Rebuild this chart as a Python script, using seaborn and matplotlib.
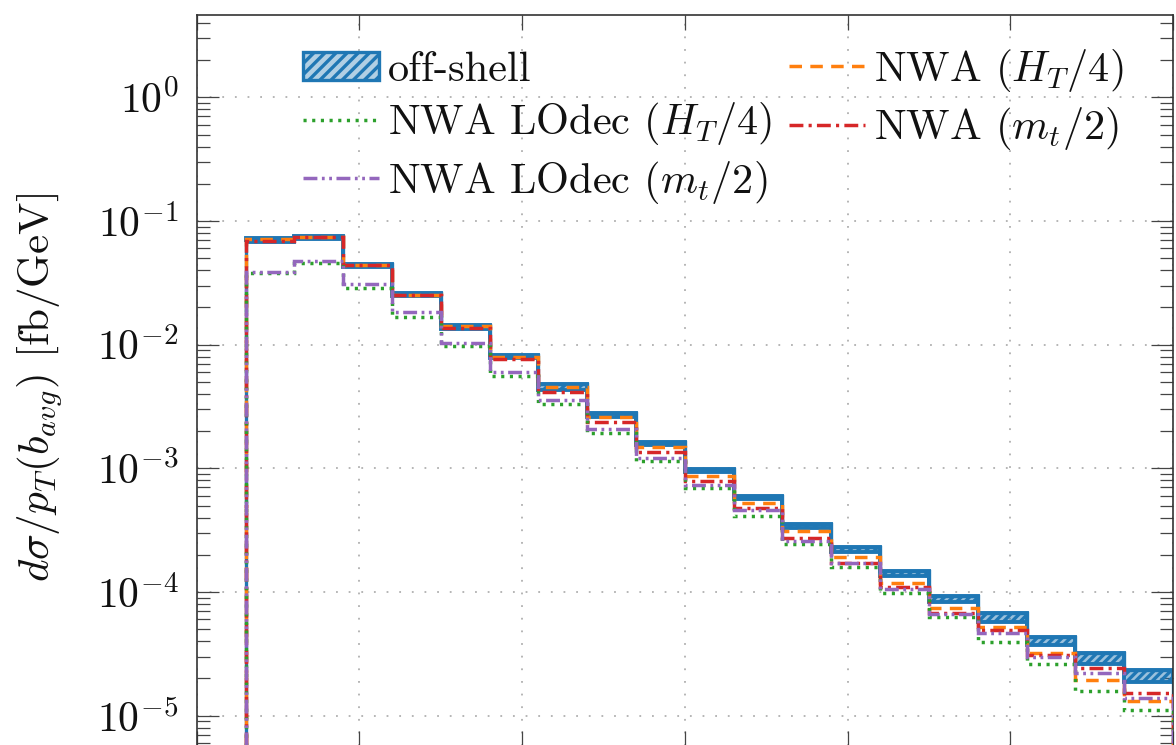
import numpy as np
import matplotlib
matplotlib.use("Agg")
import matplotlib.pyplot as plt
from matplotlib.patches import Patch
from matplotlib.lines import Line2D
from matplotlib.ticker import FixedLocator, LogLocator, FuncFormatter, NullFormatter
import seaborn as sns

# ---------------- data ----------------
bin_edges = [30, 60, 90, 120, 150, 180, 210, 240, 270, 300, 330,
             360, 390, 420, 450, 480, 510, 540, 570, 600]

offshell_upper = [0.0728, 0.0763, 0.0453, 0.0264, 0.01447, 0.00828, 0.00481,
                  0.00280, 0.00163, 0.000992, 0.000597, 0.000355, 0.000233,
                  0.000149, 9.20e-5, 6.77e-5, 4.29e-5, 3.21e-5, 2.32e-5]
offshell_lower = [0.0670, 0.0715, 0.0428, 0.0247, 0.01351, 0.00773, 0.00430,
                  0.00260, 0.00153, 0.000926, 0.000560, 0.000329, 0.000211,
                  0.000135, 8.30e-5, 5.72e-5, 3.73e-5, 2.64e-5, 1.87e-5]
nwa_ht4 = [0.0709, 0.0749, 0.0441, 0.0254, 0.01415, 0.00799, 0.00452, 0.00259,
           0.00150, 0.000872, 0.000522, 0.000311, 0.000193, 0.000119, 7.47e-5,
           5.21e-5, 3.19e-5, 1.94e-5, 1.31e-5]
nwa_mt2 = [0.0693, 0.0742, 0.0437, 0.0252, 0.01371, 0.00761, 0.00414, 0.00238,
           0.00136, 0.000794, 0.000475, 0.000272, 0.000173, 0.000109, 6.73e-5,
           4.93e-5, 3.11e-5, 2.42e-5, 1.53e-5]
lodec_ht4 = [0.0380, 0.0460, 0.0286, 0.01664, 0.00976, 0.00558, 0.00331,
             0.00192, 0.00115, 0.000690, 0.000414, 0.000244, 0.000160,
             9.76e-5, 6.25e-5, 3.97e-5, 2.60e-5, 1.59e-5, 1.11e-5]
lodec_mt2 = [0.0389, 0.0472, 0.0309, 0.01837, 0.01037, 0.00604, 0.00357,
             0.00207, 0.00122, 0.000729, 0.000460, 0.000260, 0.000171,
             0.000105, 6.60e-5, 4.69e-5, 3.00e-5, 2.20e-5, 1.40e-5]

series_labels = ["off-shell", r"NWA LOdec $(H_T/4)$", r"NWA LOdec $(m_t/2)$",
                 r"NWA $(H_T/4)$", r"NWA $(m_t/2)$"]
x_ticks = [0, 100, 200, 300, 400, 500, 600]
y_label = r"$d\sigma/p_T(b_{avg})$ [fb/GeV]"

# ---------------- style ----------------
sns.set_theme(style="ticks")
pal = sns.color_palette("tab10")
blue, orange, green, red, purple = pal[0], pal[1], pal[2], pal[3], pal[4]
plt.rcParams.update({
    "font.family": ["cmr10"],
    "mathtext.fontset": "cm",
    "axes.formatter.use_mathtext": True,
    "hatch.color": blue,
    "hatch.linewidth": 2.4,
    "axes.edgecolor": "#222222",
})

W, H = 1176, 745
fig = plt.figure(figsize=(W / 100, H / 100), dpi=100)
ax_left, ax_right, ax_top, ax_bot = 196.7, 1173.0, 15.0, 745.5
ax = fig.add_axes([ax_left / W, (H - ax_bot) / H,
                   (ax_right - ax_left) / W, (ax_bot - ax_top) / H])

ymin, ymax = 5.74e-6, 4.63
ax.set_yscale("log")
ax.set_xlim(0, 600)
ax.set_ylim(ymin, ymax)
base = ymin * 1e-3

lw = 2.5
dash_orange = (0, (3.6, 2.4))
dash_red = (0, (4.0, 1.5, 0.9, 1.5))
dash_green = (0, (0.9, 1.6))
dash_purple = (0, (4.0, 1.3, 0.8, 1.3, 0.8, 1.3))

# off-shell band
ax.stairs(offshell_upper, bin_edges, baseline=offshell_lower, fill=True,
          facecolor=(*blue, 0.45), edgecolor=blue, hatch="////",
          linewidth=2.8, zorder=2)
ax.stairs(offshell_upper, bin_edges, baseline=base, color=blue, lw=2.4, zorder=2)

ax.stairs(nwa_ht4, bin_edges, baseline=base, color=orange, lw=lw,
          linestyle=dash_orange, zorder=3)
ax.stairs(nwa_mt2, bin_edges, baseline=base, color=red, lw=lw,
          linestyle=dash_red, zorder=3)
ax.stairs(lodec_ht4, bin_edges, baseline=base, color=green, lw=lw,
          linestyle=dash_green, zorder=3)
ax.stairs(lodec_mt2, bin_edges, baseline=base, color=purple, lw=lw,
          linestyle=dash_purple, zorder=3)

# grid / ticks
ax.set_axisbelow(True)
ax.grid(True, which="major", color="#b0b0b0", linestyle=(0, (1, 6)), linewidth=1.3)
ax.xaxis.set_major_locator(FixedLocator(x_ticks))
ax.tick_params(axis="x", which="major", direction="in", length=10.8, width=0.9,
               top=True, bottom=True, labelbottom=False, color="#444444")
ax.tick_params(axis="x", which="minor", top=False, bottom=False)
ax.yaxis.set_major_locator(LogLocator(base=10, numticks=20))
ax.yaxis.set_minor_locator(LogLocator(base=10, subs=np.arange(2, 10), numticks=20))
ax.yaxis.set_major_formatter(FuncFormatter(lambda v, p: r"$10^{%d}$" % round(np.log10(v))))
ax.yaxis.set_minor_formatter(NullFormatter())
ax.tick_params(axis="y", which="major", direction="in", length=15.8, width=0.9,
               left=True, right=True, labelsize=30, pad=13, color="#444444",
               labelcolor="#111111")
ax.tick_params(axis="y", which="minor", direction="in", length=9.4, width=0.9,
               left=True, right=True, color="#444444")
for s in ax.spines.values():
    s.set_linewidth(1.2)
    s.set_color("#333333")

fig.text(40 / W, 1 - 388 / H, y_label, rotation=90, ha="center", va="center",
         fontsize=31, color="#111111")

# legend
handles = [
    Patch(facecolor=(*blue, 0.35), edgecolor=blue, hatch="///", linewidth=2.4),
    Line2D([], [], color=green, lw=lw, linestyle=dash_green),
    Line2D([], [], color=purple, lw=lw, linestyle=dash_purple),
    Line2D([], [], color=orange, lw=lw, linestyle=dash_orange),
    Line2D([], [], color=red, lw=lw, linestyle=dash_red),
]
ax.legend(handles, series_labels, ncol=2, loc="upper left",
          bbox_to_anchor=(303 / W, 1 - 47 / H), bbox_transform=fig.transFigure,
          frameon=False, fontsize=30.5, handlelength=1.8, handleheight=0.65,
          handletextpad=0.2, columnspacing=0.4, labelspacing=0.27,
          borderpad=0, borderaxespad=0, labelcolor="#111111")

fig.savefig("out.png", dpi=100)
